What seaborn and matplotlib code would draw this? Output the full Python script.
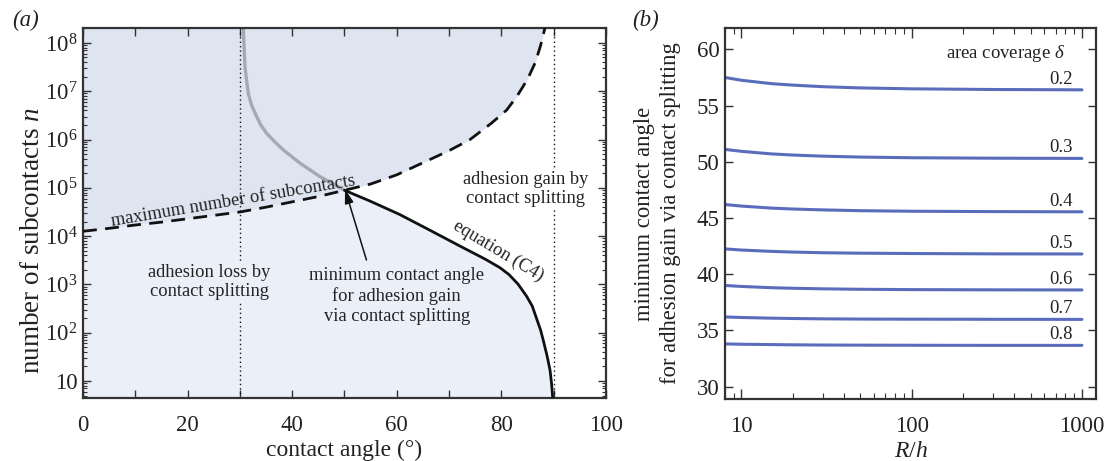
import numpy as np
import pandas as pd
import matplotlib
matplotlib.use("Agg")
import matplotlib.pyplot as plt
import seaborn as sns
from matplotlib.ticker import FixedLocator, FixedFormatter, LogLocator, MultipleLocator, NullFormatter

# ---------------- Panel (a) data ----------------
dash_theta = [0, 5, 10, 15, 20, 25, 30, 35, 40, 45, 50, 55, 60, 65, 70, 74, 78, 81, 83, 85, 86.5, 87.5, 88.3, 89.0]
dash_n = [1.26e4, 1.45e4, 1.70e4, 1.95e4, 2.29e4, 2.69e4, 3.16e4, 3.98e4, 5.13e4, 6.61e4, 8.91e4,
          1.20e5, 1.86e5, 3.31e5, 5.89e5, 1.0e6, 2.14e6, 4.07e6, 7.94e6, 1.78e7, 3.98e7, 8.91e7, 2.0e8, 5.0e8]

solid_theta = [50.0, 54.9, 60.6, 66.3, 72.1, 76.9, 79.7, 81.45, 83.2, 84.8, 85.9, 86.7, 87.5, 88.0,
               88.7, 89.3, 89.6, 89.8, 89.9]
solid_n = [8.91e4, 5.31e4, 2.79e4, 1.33e4, 6.21e3, 3.34e3, 2.23e3, 1.60e3, 1.01e3, 573, 356, 200, 113,
           70, 34.4, 16.8, 8.6, 4.6, 3.6]

gray_theta = [30.6, 30.78, 30.97, 31.26, 31.6, 32.2, 33.2, 34.0, 35.1, 36.7, 38.3, 41.5, 45.3, 50.0]
gray_n = [3.0e8, 9.1e7, 3.24e7, 1.74e7, 9.1e6, 5.25e6, 3.0e6, 2.0e6, 1.35e6, 8.9e5, 6.1e5, 3.24e5,
          1.71e5, 8.91e4]

vlines_theta = [30, 90]
a_xticks = [0, 20, 40, 60, 80, 100]
a_yticks = [1e1, 1e2, 1e3, 1e4, 1e5, 1e6, 1e7, 1e8]
a_ytick_labels = ["10", r"$\mathdefault{10^{2}}$", r"$\mathdefault{10^{3}}$", r"$\mathdefault{10^{4}}$",
                  r"$\mathdefault{10^{5}}$", r"$\mathdefault{10^{6}}$", r"$\mathdefault{10^{7}}$",
                  r"$\mathdefault{10^{8}}$"]

# ---------------- Panel (b) data ----------------
rh = [8, 10, 15, 20, 30, 50, 100, 300, 1000]
coverage = ["0.2", "0.3", "0.4", "0.5", "0.6", "0.7", "0.8"]
angle_02 = [57.5, 57.25, 56.95, 56.82, 56.68, 56.57, 56.49, 56.43, 56.4]
angle_03 = [51.1, 50.93, 50.70, 50.60, 50.50, 50.42, 50.36, 50.32, 50.3]
angle_04 = [46.2, 46.06, 45.88, 45.80, 45.72, 45.65, 45.60, 45.57, 45.55]
angle_05 = [42.25, 42.15, 42.03, 41.97, 41.91, 41.87, 41.84, 41.81, 41.8]
angle_06 = [39.0, 38.91, 38.80, 38.75, 38.70, 38.66, 38.63, 38.61, 38.6]
angle_07 = [36.2, 36.15, 36.09, 36.06, 36.03, 36.01, 36.00, 35.99, 35.98]
angle_08 = [33.8, 33.77, 33.74, 33.72, 33.70, 33.69, 33.68, 33.67, 33.67]
b_xticks = [10, 100, 1000]
b_xtick_labels = ["10", "100", "1000"]
b_yticks = [30, 35, 40, 45, 50, 55, 60]

# ---------------- style ----------------
sns.set_theme(style="ticks")
plt.rcParams["font.family"] = ["Liberation Serif", "DejaVu Serif"]
plt.rcParams["mathtext.fontset"] = "custom"
plt.rcParams["mathtext.rm"] = "Liberation Serif"
plt.rcParams["mathtext.it"] = "Liberation Serif:italic"
plt.rcParams["mathtext.bf"] = "Liberation Serif:bold"
plt.rcParams["axes.unicode_minus"] = False

INK = "#222222"
SPINE = "#333333"
DARKFILL = "#dee5f1"
LIGHTFILL = "#ebf0f8"
BLUE = "#5a6dbd"

fig = plt.figure(figsize=(11.05, 4.61), dpi=100)
axa = fig.add_axes([83 / 1105, 1 - 398 / 461, 523 / 1105, 370 / 461])
axb = fig.add_axes([725 / 1105, 1 - 399 / 461, 371 / 1105, 371 / 461])

YBOT, YTOP = 4.45, 2.04e8

# ---- panel (a) ----
axa.set_yscale("log")
axa.set_xlim(0, 100)
axa.set_ylim(YBOT, YTOP)

dash_theta_a = np.array(dash_theta)
dash_n_a = np.array(dash_n)
axa.fill_between(dash_theta_a, dash_n_a, YTOP * 3, color=DARKFILL, lw=0, zorder=0)
m = dash_theta_a <= 50
axa.fill_between(dash_theta_a[m], YBOT / 3, dash_n_a[m], color=LIGHTFILL, lw=0, zorder=0)
axa.fill_between(solid_theta, YBOT / 3, solid_n, color=LIGHTFILL, lw=0, zorder=0)

for v in vlines_theta:
    axa.axvline(v, color="#111111", lw=1.0, ls=(0, (1, 2.2)), zorder=1)

sns.lineplot(x=gray_theta, y=gray_n, ax=axa, sort=False, color="#a4aab5", lw=2.4, zorder=2)
sns.lineplot(x=dash_theta, y=dash_n, ax=axa, sort=False, color="#111111", lw=2.0, zorder=3)
axa.lines[-1].set_dashes([5, 3])
sns.lineplot(x=solid_theta, y=solid_n, ax=axa, sort=False, color="#111111", lw=2.0, zorder=3)

axa.xaxis.set_major_locator(FixedLocator(a_xticks))
axa.xaxis.set_minor_locator(MultipleLocator(10))
axa.yaxis.set_major_locator(FixedLocator(a_yticks))
axa.yaxis.set_major_formatter(FixedFormatter(a_ytick_labels))
axa.yaxis.set_minor_locator(LogLocator(base=10, subs=np.arange(2, 10), numticks=50))
axa.yaxis.set_minor_formatter(NullFormatter())
axa.tick_params(axis="x", which="both", direction="in", top=True, length=5.5, width=1.0,
                color=SPINE, labelsize=16.5, labelcolor=INK, pad=12)
axa.tick_params(axis="y", which="major", direction="in", right=True, length=5.5, width=1.0,
                color=SPINE, labelsize=16.5, labelcolor=INK, pad=4)
axa.tick_params(axis="y", which="minor", direction="in", right=True, length=3.2, width=0.8,
                color=SPINE)
axa.set_xlabel("contact angle (°)", fontsize=17, color=INK, labelpad=3.0)
axa.set_ylabel("number of subcontacts $n$", fontsize=19.5, color=INK)
axa.yaxis.set_label_coords(-0.072, 0.425)

axa.text(24.1, 1.12e3, "adhesion loss by\ncontact splitting", ha="center", va="center", fontsize=13.3,
         color=INK, linespacing=1.2, zorder=4,
         bbox=dict(boxstyle="square,pad=0.15", fc=LIGHTFILL, ec="none"))
axa.text(84.6, 9.4e4, "adhesion gain by\ncontact splitting", ha="center", va="center", fontsize=13.3,
         color=INK, linespacing=1.2, zorder=4,
         bbox=dict(boxstyle="square,pad=0.15", fc="white", ec="none"))
axa.text(60.0, 5.8e2, "minimum contact angle\nfor adhesion gain\nvia contact splitting", ha="center",
         va="center", fontsize=13.3, color=INK, linespacing=1.25, zorder=4)
axa.annotate("", xy=(50.1, 9.3e4), xytext=(54.2, 3.2e3),
             arrowprops=dict(arrowstyle="-|>,head_length=0.7,head_width=0.22", color="#111111",
                             lw=1.1, shrinkA=0, shrinkB=0), zorder=5)
axa.text(28.7, 5.2e4, "maximum number of subcontacts", ha="center", va="center", rotation=9.5,
         fontsize=13.3, color=INK, zorder=4)
axa.text(79.4, 5.0e3, "equation (C4)", ha="center", va="center", rotation=-31,
         fontsize=13.3, color=INK, zorder=4)

for s in axa.spines.values():
    s.set_color(SPINE)
    s.set_linewidth(1.6)

# ---- panel (b) ----
series = [angle_02, angle_03, angle_04, angle_05, angle_06, angle_07, angle_08]
df = pd.DataFrame({
    "R/h": rh * len(series),
    "angle": [v for s in series for v in s],
    "delta": [c for c in coverage for _ in rh],
})
sns.lineplot(data=df, x="R/h", y="angle", hue="delta", palette=[BLUE] * len(coverage),
             ax=axb, lw=2.2, legend=False, sort=True)
axb.set_xscale("log")
axb.set_xlim(8, 1210)
axb.set_ylim(28.9, 61.9)
for c, s in zip(coverage, series):
    axb.annotate(c, xy=(rh[-1], s[-1]), xytext=(-6.5, 4.5), textcoords="offset points",
                 ha="right", va="baseline", fontsize=13.5, color=INK)
axb.text(800, 59.65, r"area coverage $\delta$", ha="right", va="center", fontsize=13.5, color=INK)

axb.xaxis.set_major_locator(FixedLocator(b_xticks))
axb.xaxis.set_major_formatter(FixedFormatter(b_xtick_labels))
axb.xaxis.set_minor_locator(LogLocator(base=10, subs=np.arange(2, 10), numticks=50))
axb.xaxis.set_minor_formatter(NullFormatter())
axb.yaxis.set_major_locator(FixedLocator(b_yticks))
axb.tick_params(axis="x", which="major", direction="in", top=True, length=7, width=1.0,
                color=SPINE, labelsize=16.5, labelcolor=INK, pad=12)
axb.tick_params(axis="x", which="minor", direction="in", top=True, length=4, width=0.8, color=SPINE)
axb.tick_params(axis="y", which="major", direction="in", right=True, length=5.5, width=1.0,
                color=SPINE, labelsize=16.5, labelcolor=INK, pad=4)
axb.set_xlabel("$R/h$", fontsize=17, color=INK, labelpad=3.0)
axb.set_ylabel("minimum contact angle\nfor adhesion gain via contact splitting", fontsize=16.3,
               color=INK, linespacing=1.3)
axb.yaxis.set_label_coords(-0.118, 0.50)
for s in axb.spines.values():
    s.set_color(SPINE)
    s.set_linewidth(1.6)

fig.text(12 / 1105, 1 - 20 / 461, "(a)", fontsize=16.5, style="italic", color=INK, va="center")
fig.text(632 / 1105, 1 - 20 / 461, "(b)", fontsize=16.5, style="italic", color=INK, va="center")

fig.savefig("out.png", dpi=100, facecolor="white")
